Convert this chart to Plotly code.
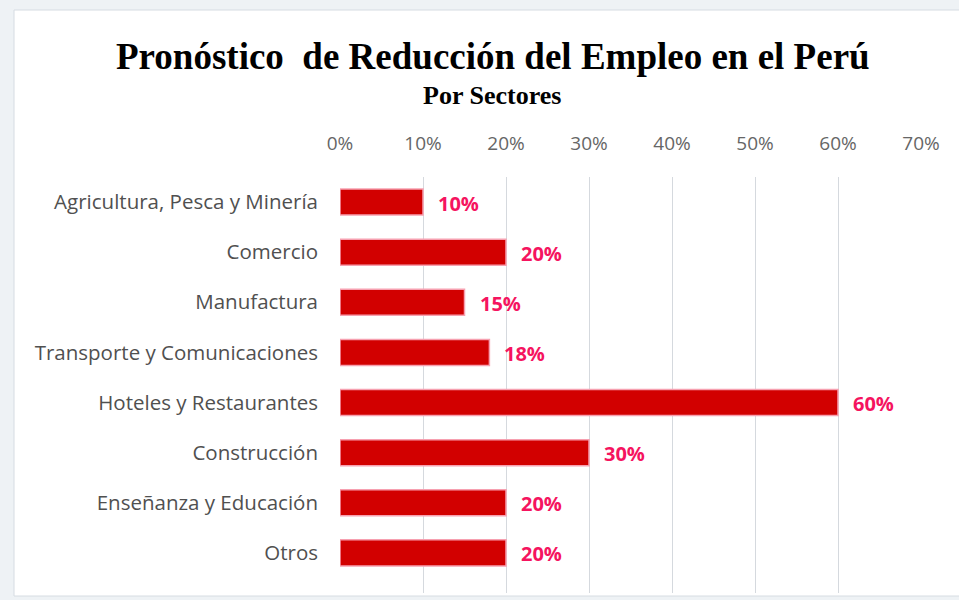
import plotly.graph_objects as go

# Sectores y reducción pronosticada del empleo (fracción)
sectores = [
    "Agricultura, Pesca y Minería",
    "Comercio",
    "Manufactura",
    "Transporte y Comunicaciones",
    "Hoteles y Restaurantes",
    "Construcción",
    "Enseñanza y Educación",
    "Otros",
]
reduccion = [0.10, 0.20, 0.15, 0.18, 0.60, 0.30, 0.20, 0.20]
ticks_x = [0.0, 0.1, 0.2, 0.3, 0.4, 0.5, 0.6, 0.7]
ticks_x_text = ["0%", "10%", "20%", "30%", "40%", "50%", "60%", "70%"]

W, H = 959, 600
ML, MR, MT, MB = 340, 38, 177, 7
PW, PH = W - ML - MR, H - MT - MB

SANS = "'Open Sans', Lato, sans-serif"
SERIF = "Liberation Serif, 'Times New Roman', serif"

def px_to_paper_x(px):
    return (px - ML) / PW

def py_to_paper_y(py):
    return (H - MB - py) / PH

fig = go.Figure()

fig.add_trace(go.Bar(
    x=reduccion,
    y=sectores,
    orientation="h",
    width=0.52,
    marker=dict(color="#d20000", line=dict(color="#f7a0b0", width=1.5)),
    hoverinfo="skip",
))

# Etiquetas de valor a la derecha de cada barra
for s, v in zip(sectores, reduccion):
    fig.add_annotation(
        x=v, y=s, xref="x", yref="y",
        text=f"<b>{v:.0%}</b>", showarrow=False,
        xanchor="left", xshift=13, yshift=-1,
        font=dict(family=SANS, size=20, color="#f5145f"),
    )

# Tarjeta blanca de fondo
fig.add_shape(
    type="rect", xref="paper", yref="paper", layer="below",
    x0=px_to_paper_x(14), x1=px_to_paper_x(962),
    y0=py_to_paper_y(596), y1=py_to_paper_y(10),
    fillcolor="white", line=dict(color="#d6dce2", width=1),
)

# Título y subtítulo
fig.add_annotation(
    x=px_to_paper_x(493), y=py_to_paper_y(56), xref="paper", yref="paper",
    text="<b>Pronóstico  de Reducción del Empleo en el Perú</b>", showarrow=False,
    xanchor="center", yanchor="middle",
    font=dict(family=SERIF, size=37, color="#000000"),
)
fig.add_annotation(
    x=px_to_paper_x(492), y=py_to_paper_y(95), xref="paper", yref="paper",
    text="<b>Por Sectores</b>", showarrow=False,
    xanchor="center", yanchor="middle",
    font=dict(family=SERIF, size=26, color="#000000"),
)

fig.update_layout(
    width=W, height=H,
    margin=dict(l=ML, r=MR, t=MT, b=MB),
    paper_bgcolor="#eef2f5",
    plot_bgcolor="white",
    showlegend=False,
    xaxis=dict(
        side="top", range=[0, 0.7], tickvals=ticks_x, ticktext=ticks_x_text,
        showgrid=True, gridcolor="#d5d9de", gridwidth=1,
        zeroline=False, showline=False, ticks="", ticklabelstandoff=22,
        tickfont=dict(family=SANS, size=19, color="#666666"),
    ),
    yaxis=dict(
        categoryorder="array", categoryarray=sectores,
        range=[7.8, -0.5], showgrid=False, zeroline=False, showline=False,
        ticks="", ticklabelstandoff=21,
        tickfont=dict(family=SANS, size=20.5, color="#505050"),
    ),
)

fig.write_html("out.html")
